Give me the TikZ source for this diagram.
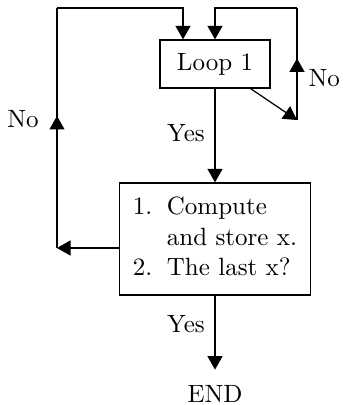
\documentclass[tikz,border=0pt]{standalone}
\usepackage{tikz}
\usetikzlibrary{calc}
\usetikzlibrary{arrows.meta}
\usetikzlibrary{decorations.markings}

\begin{document}
\begin{tikzpicture}[x=0.4pt, y=-0.4pt]
	    \tikzstyle{block}=[draw, line width=.5pt, inner sep=0pt]
	    \tikzstyle{line}=[draw, line width=.5pt, black!100]
	    \tikzstyle{edge}=[line, -{Triangle[width=6pt,length=5.4pt]}]
	    \tikzstyle{midup}=[postaction={decorate}, decoration={markings, mark=at position .55 with {\arrow{Triangle[width=6pt,length=5.4pt]}}}]
	    \useasboundingbox (0,0) rectangle (345,405);
	    \node[block, minimum width=44pt, minimum height=19.2pt] (loop) at (215,64) {Loop 1};
	    \node[block, minimum width=76.4pt, minimum height=44.8pt] (comp) at (215,239) {\begin{tabular}{@{}l@{\hspace{5.8pt}}l@{}}1. & Compute\\ & and store x.\\ 2. & The last x?\end{tabular}};
	    \node (stop) at (215,394) {END};
	    \node (yes1) at (186,133) {Yes};
	    \node (yes2) at (186,324) {Yes};
	    \node (no1) at (23,119) {No};
	    \node[anchor=west, inner sep=0pt] (no2) at (308,78) {No};
	    \coordinate (r1) at (297,120);
	    \coordinate (r2) at (297,8);
	    \coordinate (r3) at (215,8);
	    \coordinate (l0) at (57,248);
	    \coordinate (l1) at (57,8);
	    \coordinate (l2) at (183,8);
	    \draw[edge] (loop.south) -- (loop.south |- comp.north);
	    \draw[edge, shorten >=2.8pt] (comp.south) -- (stop.north);
	    \draw[edge] ($(loop.south)!.64!(loop.south east)$) -- (r1);
	    \draw[line, midup] (r1) -- (r2);
	    \draw[edge] (r2) -- (r3) -- (loop.north);
	    \draw[edge] (comp.west |- l0) -- (l0);
	    \draw[line, midup] (l0) -- (l1);
	    \draw[edge] (l1) -- (l2) -- (l2 |- loop.north);
	\end{tikzpicture}
\end{document}
